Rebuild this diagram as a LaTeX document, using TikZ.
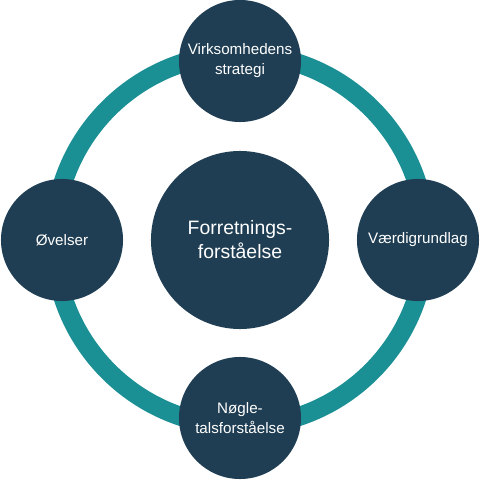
\documentclass[tikz,border=0pt]{standalone}
\usepackage{fontspec}
\setmainfont{Liberation Sans}
\usepackage{xcolor}
\usepackage{tikz}
\definecolor{navy}{HTML}{1F3E53}
\definecolor{teal}{HTML}{1A8F94}
\tikzset{
  ring/.style={draw=teal,line width=0.475cm},
  topicdot/.style={circle,fill=navy,text=white,minimum size=3.05cm,inner sep=0pt,
    align=center,font=\fontsize{10.8}{14.2}\selectfont},
  coredot/.style={circle,fill=navy,text=white,minimum size=4.45cm,inner sep=0pt,
    align=center,font=\fontsize{13.8}{17}\selectfont}
}

\begin{document}
\begin{tikzpicture}[x=0.025cm,y=0.025cm]
\useasboundingbox (-240,-240) rectangle (240,240);
\draw[ring] (0,0) circle (186);

\node[coredot] (core) at (0,0) {Forretnings-\\forståelse};
\node[topicdot] (strat) at (0,179) {Virksomhedens\\strategi};
\node[topicdot] (vaerdi) at (178,0) {Værdigrundlag};
\node[topicdot] (noegle) at (0,-178) {Nøgle-\\talsforståelse};
\node[topicdot] (oevelser) at (-178,0) {Øvelser};
\end{tikzpicture}
\end{document}
